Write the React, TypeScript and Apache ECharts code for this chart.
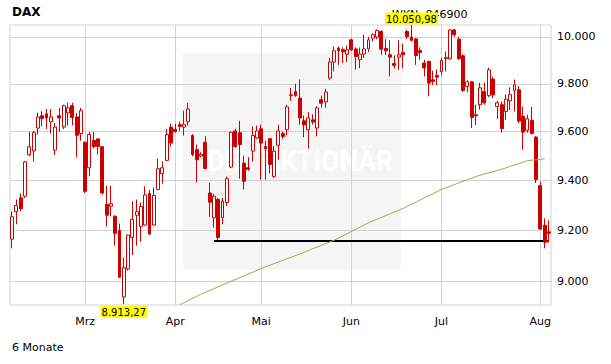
import React, { useEffect, useRef } from 'react';
import * as echarts from 'echarts';

// ---- categories: trading days, Feb 6 2014 - Aug 5 2014 ----
const febDays = [6, 7, 10, 11, 12, 13, 14, 17, 18, 19, 20, 21, 24, 25, 26, 27, 28];
const marDays = [3, 4, 5, 6, 7, 10, 11, 12, 13, 14, 17, 18, 19, 20, 21, 24, 25, 26, 27, 28, 31];
const aprDays = [1, 2, 3, 4, 7, 8, 9, 10, 11, 14, 15, 16, 17, 22, 23, 24, 25, 28, 29, 30];
const mayDays = [2, 5, 6, 7, 8, 9, 12, 13, 14, 15, 16, 19, 20, 21, 22, 23, 26, 27, 28, 29, 30];
const junDays = [2, 3, 4, 5, 6, 9, 10, 11, 12, 13, 16, 17, 18, 19, 20, 23, 24, 25, 26, 27, 30];
const julDays = [1, 2, 3, 4, 7, 8, 9, 10, 11, 14, 15, 16, 17, 18, 21, 22, 23, 24, 25, 28, 29, 30, 31];
const augDays = [1, 4, 5];

const monthNames: Record<string, string> = {
  '02': 'Feb', '03': 'Mrz', '04': 'Apr', '05': 'Mai', '06': 'Jun', '07': 'Jul', '08': 'Aug',
};

// ---- OHLC ----
const opens = [
  9166, 9275, 9331, 9337, 9505, 9521, 9615, 9666, 9674, 9641, 9524, 9666, 9619, 9678, 9708, 9661, 9592,
  9556, 9452, 9564, 9570, 9538, 9304, 9297, 9257, 9200, 8941, 9049, 9173, 9261, 9217, 9222, 9348, 9222, 9364, 9428, 9482, 9619,
  9610, 9629, 9619, 9641, 9584, 9526, 9500, 9556, 9350, 9251, 9324, 9251, 9312, 9455, 9603, 9596, 9471, 9452, 9520, 9574,
  9612, 9539, 9571, 9417, 9544, 9592, 9608, 9750, 9767, 9740, 9645, 9608, 9649, 9615, 9733, 9724, 9824, 9892, 9952, 9945, 9925,
  9987, 9948, 9902, 9926, 9948, 9994, 9999, 10023, 9950, 9923, 9886, 9913, 9933, 10023, 9999, 9991, 9941, 9888, 9895, 9817, 9835,
  9852, 9906, 9906, 10030, 9990, 9919, 9789, 9808, 9670, 9712, 9767, 9750, 9820, 9705, 9712, 9684, 9728, 9772, 9775, 9664, 9606, 9647, 9578,
  9380, 9221, 9195,
];
const closes = [
  9255, 9300, 9287, 9476, 9538, 9596, 9661, 9655, 9657, 9661, 9619, 9657, 9708, 9699, 9659, 9585, 9687,
  9357, 9588, 9539, 9539, 9350, 9261, 9307, 9189, 9017, 9054, 9182, 9245, 9275, 9296, 9342, 9186, 9340, 9448, 9452, 9588, 9553,
  9600, 9622, 9629, 9694, 9506, 9485, 9507, 9449, 9313, 9337, 9173, 9317, 9408, 9598, 9539, 9547, 9397, 9446, 9584, 9603,
  9553, 9530, 9465, 9520, 9603, 9580, 9703, 9754, 9750, 9657, 9628, 9657, 9640, 9699, 9718, 9765, 9892, 9940, 9940, 9936, 9944,
  9944, 9916, 9926, 9948, 9987, 10009, 10027, 9947, 9940, 9913, 9878, 9923, 9923, 10001, 9985, 9920, 9933, 9867, 9803, 9810, 9828,
  9899, 9911, 10029, 10009, 9906, 9772, 9808, 9659, 9666, 9783, 9720, 9859, 9753, 9720, 9612, 9735, 9754, 9796, 9644, 9598, 9653, 9593, 9404,
  9206, 9154, 9189,
];
const lows = [
  9130, 9225, 9277, 9330, 9499, 9478, 9588, 9622, 9611, 9592, 9504, 9599, 9611, 9625, 9625, 9495, 9563,
  9350, 9417, 9532, 9506, 9344, 9216, 9257, 9140, 9015, 8913.27, 9043, 9104, 9140, 9156, 9220, 9183, 9220, 9362, 9388, 9480, 9539,
  9596, 9603, 9584, 9625, 9499, 9393, 9495, 9445, 9254, 9212, 9163, 9225, 9298, 9450, 9534, 9408, 9364, 9440, 9478, 9570,
  9404, 9404, 9430, 9410, 9485, 9570, 9585, 9728, 9745, 9629, 9577, 9530, 9630, 9581, 9700, 9700, 9815, 9852, 9880, 9888, 9892,
  9940, 9860, 9866, 9910, 9935, 9980, 9990, 9923, 9922, 9831, 9865, 9859, 9865, 9990, 9980, 9880, 9902, 9831, 9747, 9795, 9795,
  9835, 9852, 9902, 10000, 9902, 9765, 9765, 9615, 9627, 9691, 9712, 9745, 9740, 9653, 9596, 9650, 9690, 9684, 9635, 9526, 9596, 9588, 9390,
  9205, 9130, 9153,
];
const highs = [
  9277, 9324, 9348, 9480, 9599, 9603, 9679, 9685, 9694, 9694, 9636, 9698, 9712, 9720, 9720, 9678, 9699,
  9560, 9599, 9599, 9574, 9540, 9379, 9379, 9260, 9228, 9094, 9184, 9317, 9324, 9312, 9377, 9362, 9372, 9489, 9478, 9611, 9633,
  9633, 9642, 9687, 9720, 9590, 9547, 9515, 9581, 9390, 9347, 9330, 9330, 9417, 9600, 9612, 9645, 9502, 9495, 9622, 9625,
  9629, 9563, 9574, 9540, 9629, 9600, 9712, 9782, 9800, 9818, 9667, 9681, 9672, 9706, 9750, 9779, 9910, 9958, 9958, 9955, 9962,
  9992, 9955, 9954, 10009, 10000, 10015, 10032, 10028, 9990, 9985, 9920, 9985, 9970, 10030, 10050.98, 9995, 9955, 9902, 9897, 9855, 9860,
  9910, 9937, 10033, 10033, 10000, 9925, 9815, 9812, 9712, 9805, 9805, 9868, 9830, 9728, 9725, 9755, 9785, 9818, 9790, 9703, 9670, 9703, 9581,
  9396, 9248, 9240,
];

// ---- 200-day moving average (read at sample dates) ----
const smaDates = [
  '2014-04-02', '2014-04-09', '2014-05-02', '2014-05-15', '2014-05-27', '2014-06-06', '2014-06-18',
  '2014-07-01', '2014-07-09', '2014-07-14', '2014-07-21', '2014-07-25', '2014-07-29', '2014-08-04',
];
const smaValues = [8911, 8952, 9051, 9108, 9162, 9231, 9288, 9364, 9404, 9422, 9446, 9469, 9481, 9488];

// ---- axis ----
const yTicks = [9000, 9200, 9400, 9600, 9800, 10000];
const yMin = 8910;
const yMax = 10051;
const supportLevel = 9160;
const supportStart = '2014-04-14';

const pad = (n: number) => (n < 10 ? '0' + n : '' + n);
const monthDays: [string, number[]][] = [
  ['2014-02', febDays], ['2014-03', marDays], ['2014-04', aprDays], ['2014-05', mayDays],
  ['2014-06', junDays], ['2014-07', julDays], ['2014-08', augDays],
];
const categories: string[] = [];
const monthStart: boolean[] = [];
monthDays.forEach(([m, days]) => {
  days.forEach((d, k) => {
    categories.push(m + '-' + pad(d));
    monthStart.push(k === 0 && m !== '2014-02');
  });
});

function fmtDe(v: number, digits: number) {
  const s = Number(v).toFixed(digits);
  const [ip, fp] = s.split('.');
  const g = ip.replace(/\B(?=(\d{3})+(?!\d))/g, '.');
  return fp ? g + ',' + fp : g;
}

const FONT = 'DejaVu Sans';

export default function App() {
  const ref = useRef<HTMLDivElement>(null);
  useEffect(() => {
    if (!ref.current) return;
    const chart = echarts.init(ref.current, undefined, { renderer: 'svg' });
    const candleData = categories.map((_, i) => [opens[i], closes[i], lows[i], highs[i]]);
    const smaMap: Record<string, number> = {};
    smaDates.forEach((d, i) => (smaMap[d] = smaValues[i]));
    const smaData = categories.map((d) => (smaMap[d] !== undefined ? smaMap[d] : null));
    const lastCat = categories[categories.length - 1];

    chart.setOption({
      animation: false,
      grid: {
        left: 10, top: 25, width: 541, height: 280,
        show: true, borderColor: '#d3d3d3', borderWidth: 1, backgroundColor: 'transparent',
      },
      graphic: [
        { type: 'rect', z: -5, shape: { x: 183, y: 53, width: 218, height: 217 }, style: { fill: '#f5f5f5' } },
        {
          type: 'text', z: -4, x: 300, y: 161, scaleX: 0.88,
          style: { text: 'DER AKTIONÄR', fill: '#ffffff', font: 'bold 30px Roboto', align: 'center', verticalAlign: 'middle' },
        },
        {
          type: 'text', x: 12, y: 12,
          style: { text: 'DAX', fill: '#000', font: 'bold 12px "DejaVu Sans"', align: 'left', verticalAlign: 'middle' },
        },
        {
          type: 'text', x: 392, y: 14,
          style: { text: 'WKN: 846900', fill: '#000', font: '11px "DejaVu Sans"', align: 'left', verticalAlign: 'middle' },
        },
        {
          type: 'text', x: 12, y: 347,
          style: { text: '6 Monate', fill: '#000', font: '11px "DejaVu Sans"', align: 'left', verticalAlign: 'middle' },
        },
      ],
      xAxis: {
        type: 'category',
        data: categories,
        boundaryGap: true,
        axisLine: { show: false },
        axisTick: { show: false },
        axisLabel: {
          interval: (i: number) => monthStart[i],
          formatter: (v: string) => monthNames[v.slice(5, 7)],
          color: '#000', fontFamily: FONT, fontSize: 11, margin: 11,
        },
        splitLine: {
          show: true,
          interval: (i: number) => monthStart[i],
          alignWithLabel: true,
          lineStyle: { color: '#d3d3d3', width: 1 },
        },
      },
      yAxis: {
        type: 'log',
        logBase: 10,
        min: yMin,
        max: yMax,
        axisLine: { show: false },
        axisTick: { show: false },
        axisLabel: { show: false },
        splitLine: { show: false },
      },
      series: [
        {
          type: 'candlestick',
          data: candleData,
          barWidth: 3.4,
          z: 2,
          itemStyle: {
            color: '#ffffff', color0: '#cc0000',
            borderColor: '#cc0000', borderColor0: '#cc0000', borderWidth: 1,
          },
          markLine: {
            silent: true, z: 1, animation: false,
            symbol: ['none', 'none'],
            lineStyle: { color: '#d3d3d3', type: 'solid', width: 1 },
            label: {
              show: true, position: 'end', distance: 6, color: '#000', fontFamily: FONT, fontSize: 11,
              formatter: (p: any) => fmtDe(p.value, 0),
            },
            emphasis: { disabled: true },
            data: yTicks.map((v) => ({ yAxis: v })),
          },
          markPoint: {
            silent: true, z: 10, animation: false,
            symbol: 'rect', symbolSize: 1,
            itemStyle: { color: 'rgba(0,0,0,0)' },
            label: {
              show: true, color: '#000', fontFamily: FONT, fontSize: 10, lineHeight: 11,
              backgroundColor: '#ffff00', padding: [1, 1, 0, 1],
              formatter: (p: any) => fmtDe(p.value, 2),
            },
            data: [
              { type: 'max', valueDim: 'highest', label: { position: 'top', distance: 0 } },
              { type: 'min', valueDim: 'lowest', label: { position: 'bottom', distance: 1 } },
            ],
          },
        },
        {
          type: 'line',
          data: smaData,
          connectNulls: true,
          symbol: 'none',
          z: 3,
          lineStyle: { color: '#92b24a', width: 1 },
          markLine: {
            silent: true, z: 1.5, animation: false,
            symbol: ['none', 'none'],
            label: { show: false },
            lineStyle: { color: '#000', type: 'solid', width: 2 },
            emphasis: { disabled: true },
            data: [[{ coord: [supportStart, supportLevel] }, { coord: [lastCat, supportLevel] }]],
          },
        },
      ],
    });
    return () => chart.dispose();
  }, []);
  return <div ref={ref} style={{ position: 'absolute', left: 0, top: 0, width: 611, height: 364 }} />;
}
